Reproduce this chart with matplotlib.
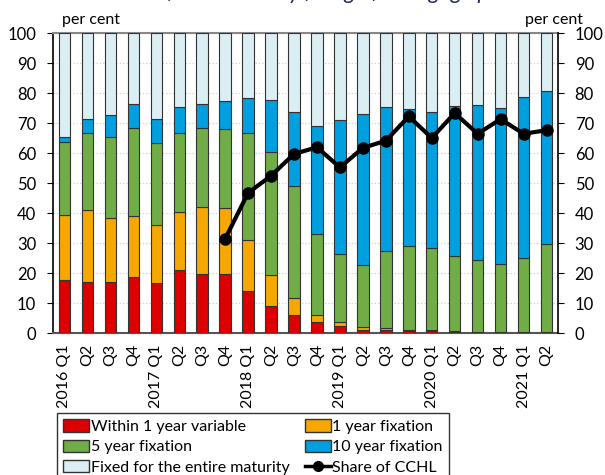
import matplotlib
matplotlib.use("Agg")
import matplotlib.pyplot as plt
import numpy as np
from matplotlib.patches import Patch
from matplotlib.lines import Line2D

plt.rcParams['font.family'] = ['Lato', 'DejaVu Sans']

categories = ["2016 Q1", "Q2", "Q3", "Q4", "2017 Q1", "Q2", "Q3", "Q4",
              "2018 Q1", "Q2", "Q3", "Q4", "2019 Q1", "Q2", "Q3", "Q4",
              "2020 Q1", "Q2", "Q3", "Q4", "2021 Q1", "Q2"]

within_1y = [17.6, 17.1, 17.0, 18.6, 16.8, 21.0, 19.8, 19.6, 14.0, 8.9, 5.9,
             3.6, 2.4, 1.1, 0.9, 0.7, 0.6, 0.4, 0.3, 0.3, 0.2, 0.2]
fix_1y = [21.8, 23.8, 21.3, 20.3, 19.2, 19.4, 22.1, 22.1, 17.0, 10.3, 5.9,
          2.5, 1.2, 0.9, 0.8, 0.4, 0.3, 0.3, 0.2, 0.1, 0.1, 0.1]
fix_5y = [24.3, 25.8, 26.9, 29.4, 27.3, 26.3, 26.4, 26.3, 35.6, 41.1, 37.2,
          27.0, 22.7, 20.6, 25.5, 27.8, 27.3, 24.9, 23.9, 22.5, 24.8, 29.5]
fix_10y = [1.6, 4.6, 7.6, 8.1, 8.1, 8.6, 8.0, 9.3, 11.7, 17.5, 24.7,
           35.9, 44.8, 50.4, 48.0, 45.8, 45.5, 50.0, 51.5, 52.1, 53.5, 50.9]
fix_entire = [34.7, 28.7, 27.2, 23.6, 28.6, 24.7, 23.7, 22.7, 21.7, 22.2, 26.3,
              31.0, 28.9, 27.0, 24.8, 25.3, 26.3, 24.4, 24.1, 25.0, 21.4, 19.3]
share_cchl = [None, None, None, None, None, None, None, 31.4, 46.7, 52.4, 59.7,
              61.9, 55.2, 61.7, 64.1, 72.2, 65.0, 73.3, 66.4, 71.3, 66.4, 67.6]

series = [("Within 1 year variable", within_1y, "#DD0000"),
          ("1 year fixation", fix_1y, "#F7A800"),
          ("5 year fixation", fix_5y, "#70AD47"),
          ("10 year fixation", fix_10y, "#009FDF"),
          ("Fixed for the entire maturity", fix_entire, "#DAEEF3")]

fig = plt.figure(figsize=(6.05, 4.75), dpi=100)
ax = fig.add_axes([53/605, 1-333/475, 505/605, 300/475])

x = np.arange(len(categories))
bottom = np.zeros(len(categories))
for name, vals, col in series:
    v = np.array(vals)
    ax.bar(x, v, bottom=bottom, width=0.5, color=col, edgecolor="#333333",
           linewidth=0.8, zorder=3)
    bottom += v

ys = np.array([np.nan if s is None else s for s in share_cchl], dtype=float)
ax.plot(x, ys, color="black", lw=3, marker="o", ms=8, zorder=5)

ax.set_xlim(-0.5, len(categories) - 0.5)
ax.set_ylim(0, 100)
ax.set_yticks(np.arange(0, 101, 10))
ax.yaxis.grid(True, color="#D0D0D0", linestyle=":", lw=0.9, zorder=0)
ax.set_xticks(x)
ax.set_xticklabels(categories, rotation=90, fontsize=11.5)
ax.tick_params(axis="x", length=0, pad=8)
ax.tick_params(axis="y", labelsize=12, length=4, direction="out", pad=8)

ax.spines["left"].set_color("black")
ax.spines["left"].set_linewidth(1.2)
ax.spines["bottom"].set_color("#555555")
ax.spines["bottom"].set_linewidth(1.5)
ax.spines["top"].set_color("#888888")
ax.spines["top"].set_linewidth(1.5)
ax.spines["right"].set_visible(False)

ax2 = ax.twinx()
ax2.set_ylim(0, 100)
ax2.set_yticks(np.arange(0, 101, 10))
ax2.tick_params(axis="y", labelsize=12, length=4, direction="out", pad=8)
for s in ["left", "top", "bottom"]:
    ax2.spines[s].set_visible(False)
ax2.spines["right"].set_color("black")
ax2.spines["right"].set_linewidth(1.2)

fig.text(62/605, 1-20/475, "per cent", fontsize=11.5, va="center", ha="left")
fig.text(583/605, 1-20/475, "per cent", fontsize=11.5, va="center", ha="right")

fig.text(0.5, 1 + 1/475, "Breakdown of new loans by fixing of mortgage products",
         fontsize=16, style="italic", color="#1F2A5C", ha="center",
         va="baseline")

handles = [Patch(facecolor=c, edgecolor="#333333", label=n) for n, _, c in series]
line_h = Line2D([0], [0], color="black", lw=2.5, marker="o", ms=7,
                label="Share of CCHL")
order = [handles[0], handles[2], handles[4], handles[1], handles[3], line_h]
leg = fig.legend(handles=order, ncol=2, loc="upper left",
                 bbox_to_anchor=(49/605, 1-405/475), fontsize=11.5,
                 frameon=True, fancybox=False, edgecolor="black",
                 handlelength=1.6, handleheight=0.8, handletextpad=0.1,
                 columnspacing=1.0, labelspacing=0.35, borderpad=0.4)
leg.get_frame().set_linewidth(1.0)

fig.savefig("out.png", dpi=100)
